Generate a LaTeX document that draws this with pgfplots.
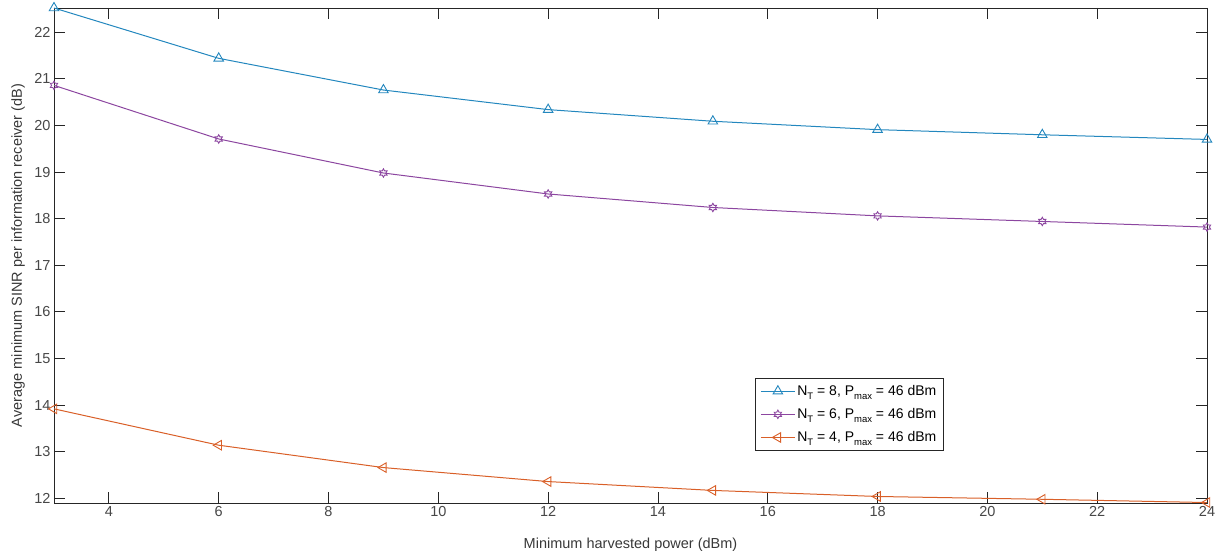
\documentclass[border=0pt]{standalone}
\usepackage{fontspec}
\setmainfont{Liberation Sans}
\usepackage{pgfplots}
\pgfplotsset{compat=1.18}
\usetikzlibrary{calc}
\definecolor{mblue}{RGB}{35,135,190}
\definecolor{mpurple}{RGB}{140,70,160}
\definecolor{morange}{RGB}{217,95,40}
\definecolor{axgray}{RGB}{38,38,38}
\newcommand{\sub}[1]{\raisebox{-0.55ex}{\fontsize{9.5}{10}\selectfont #1}}
\pgfdeclareplotmark{hexagram}{%
  \pgfpathmoveto{\pgfpointpolar{90}{\pgfplotmarksize}}%
  \pgfpathlineto{\pgfpointpolar{120}{0.577\pgfplotmarksize}}%
  \pgfpathlineto{\pgfpointpolar{150}{\pgfplotmarksize}}%
  \pgfpathlineto{\pgfpointpolar{180}{0.577\pgfplotmarksize}}%
  \pgfpathlineto{\pgfpointpolar{210}{\pgfplotmarksize}}%
  \pgfpathlineto{\pgfpointpolar{240}{0.577\pgfplotmarksize}}%
  \pgfpathlineto{\pgfpointpolar{270}{\pgfplotmarksize}}%
  \pgfpathlineto{\pgfpointpolar{300}{0.577\pgfplotmarksize}}%
  \pgfpathlineto{\pgfpointpolar{330}{\pgfplotmarksize}}%
  \pgfpathlineto{\pgfpointpolar{0}{0.577\pgfplotmarksize}}%
  \pgfpathlineto{\pgfpointpolar{30}{\pgfplotmarksize}}%
  \pgfpathlineto{\pgfpointpolar{60}{0.577\pgfplotmarksize}}%
  \pgfpathclose\pgfusepathqstroke}
\begin{document}
\begin{tikzpicture}
\begin{axis}[
  scale only axis, width=1153pt, height=495pt,
  xmin=3, xmax=24, ymin=11.9, ymax=22.52,
  xtick={4,6,...,24}, ytick={12,13,...,22},
  tick align=inside, major tick length=11pt,
  axis line style={draw=axgray, line width=0.9pt},
  tick style={draw=axgray, line width=0.9pt},
  /pgf/number format/assume math mode=true,
  ticklabel style={font=\fontsize{14.5}{16}\selectfont, text=black!72},
  label style={font=\fontsize{14.5}{16}\selectfont, text=black!78},
  xlabel={Minimum harvested power (dBm)},
  ylabel={Average minimum SINR per information receiver (dB)},
  xlabel style={at={(axis description cs:0.5,-0.084)}, anchor=center},
  ylabel style={at={(axis description cs:-0.031,0.5)}, anchor=center},
  legend style={at={(0.608,0.2525)}, anchor=north west, draw=axgray, line width=0.7pt,
    font=\fontsize{14}{16}\selectfont, row sep=7.5pt, inner sep=5pt},
  legend cell align=left,
  legend image code/.code={\draw[mark repeat=2,mark phase=2,#1] plot coordinates {(0pt,0pt)(17pt,0pt)(34pt,0pt)};},
]
\addplot[mblue, line width=1pt, mark=triangle, mark size=5.5pt, mark options={solid, line width=0.9pt}]
  coordinates {(3,22.52)(6,21.44)(9,20.76)(12,20.34)(15,20.09)(18,19.91)(21,19.80)(24,19.70)};
\addlegendentry{N\sub{T} = 8, P\sub{max} = 46 dBm}
\addplot[mpurple, line width=1pt, mark=hexagram, mark size=4.2pt, mark options={solid, line width=0.9pt}]
  coordinates {(3,20.86)(6,19.71)(9,18.98)(12,18.53)(15,18.24)(18,18.06)(21,17.94)(24,17.82)};
\addlegendentry{N\sub{T} = 6, P\sub{max} = 46 dBm}
\addplot[morange, line width=1pt, mark=triangle, mark size=5.5pt, mark options={solid, line width=0.9pt, rotate=90}]
  coordinates {(3,13.92)(6,13.14)(9,12.66)(12,12.36)(15,12.17)(18,12.04)(21,11.98)(24,11.91)};
\addlegendentry{N\sub{T} = 4, P\sub{max} = 46 dBm}
\end{axis}
\pgfresetboundingbox
\path ($(current axis.south west)+(-54pt,-52pt)$) rectangle ($(current axis.north east)+(16pt,8pt)$);
\end{tikzpicture}
\end{document}
